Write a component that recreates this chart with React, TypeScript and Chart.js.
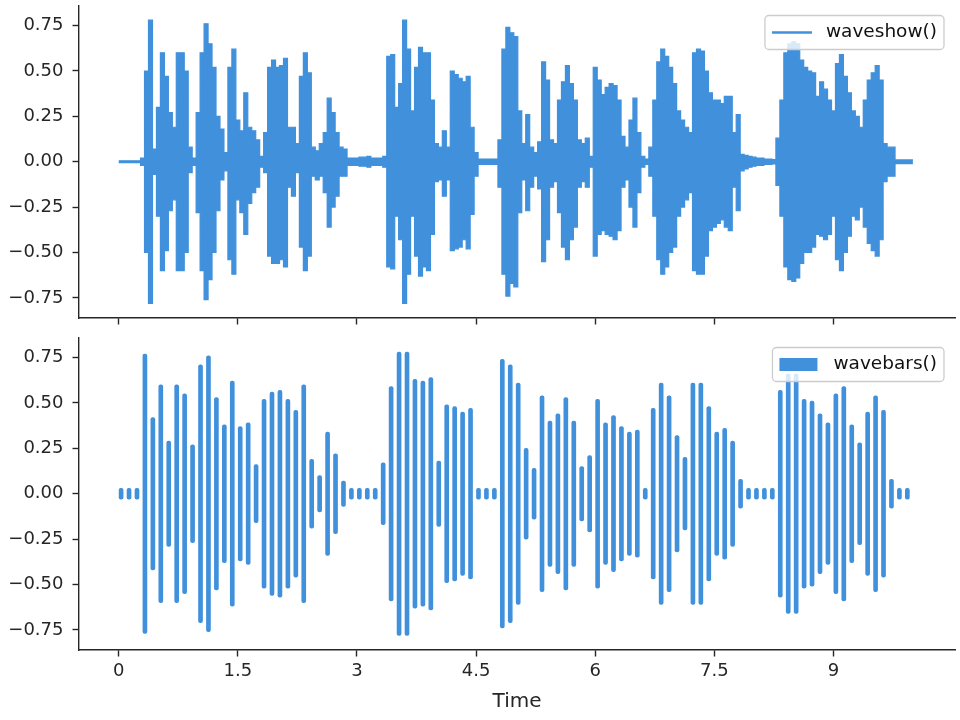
import { useEffect, useRef } from 'react'
import { Chart, registerables } from 'chart.js'

Chart.register(...registerables)

const BLUE = '#4090dc'
const INK = '#262626'
const FONT = "'DejaVu Sans', sans-serif"

// waveform envelope (seconds, peak above zero, peak below zero)
const envTimes = [
  0, 0.05, 0.1, 0.15, 0.2, 0.25, 0.3, 0.35, 0.4, 0.45,
  0.5, 0.55, 0.6, 0.65, 0.7, 0.75, 0.8, 0.85, 0.9, 0.95,
  1, 1.05, 1.1, 1.15, 1.2, 1.25, 1.3, 1.35, 1.4, 1.45,
  1.5, 1.55, 1.6, 1.65, 1.7, 1.75, 1.8, 1.85, 1.9, 1.95,
  2, 2.05, 2.1, 2.15, 2.2, 2.25, 2.3, 2.35, 2.4, 2.45,
  2.5, 2.55, 2.6, 2.65, 2.7, 2.75, 2.8, 2.85, 2.9, 2.95,
  3, 3.05, 3.1, 3.15, 3.2, 3.25, 3.3, 3.35, 3.4, 3.45,
  3.5, 3.55, 3.6, 3.65, 3.7, 3.75, 3.8, 3.85, 3.9, 3.95,
  4, 4.05, 4.1, 4.15, 4.2, 4.25, 4.3, 4.35, 4.4, 4.45,
  4.5, 4.55, 4.6, 4.65, 4.7, 4.75, 4.8, 4.85, 4.9, 4.95,
  5, 5.05, 5.1, 5.15, 5.2, 5.25, 5.3, 5.35, 5.4, 5.45,
  5.5, 5.55, 5.6, 5.65, 5.7, 5.75, 5.8, 5.85, 5.9, 5.95,
  6, 6.05, 6.1, 6.15, 6.2, 6.25, 6.3, 6.35, 6.4, 6.45,
  6.5, 6.55, 6.6, 6.65, 6.7, 6.75, 6.8, 6.85, 6.9, 6.95,
  7, 7.05, 7.1, 7.15, 7.2, 7.25, 7.3, 7.35, 7.4, 7.45,
  7.5, 7.55, 7.6, 7.65, 7.7, 7.75, 7.8, 7.85, 7.9, 7.95,
  8, 8.05, 8.1, 8.15, 8.2, 8.25, 8.3, 8.35, 8.4, 8.45,
  8.5, 8.55, 8.6, 8.65, 8.7, 8.75, 8.8, 8.85, 8.9, 8.95,
  9, 9.05, 9.1, 9.15, 9.2, 9.25, 9.3, 9.35, 9.4, 9.45,
  9.5, 9.55, 9.6, 9.65, 9.7, 9.75, 9.8, 9.85, 9.9, 9.95,
  10,
]
const envUpper = [
  0.005, 0.005, 0.005, 0.005, 0.005, 0.005, 0.02, 0.5, 0.78, 0.07,
  0.3, 0.6, 0.47, 0.27, 0.19, 0.6, 0.6, 0.5, 0.08, 0.02,
  0.27, 0.6, 0.76, 0.65, 0.52, 0.25, 0.18, 0.05, 0.52, 0.62,
  0.23, 0.17, 0.38, 0.19, 0.17, 0.12, 0.03, 0.16, 0.52, 0.56,
  0.52, 0.53, 0.57, 0.19, 0.19, 0.1, 0.47, 0.6, 0.49, 0.08,
  0.06, 0.1, 0.16, 0.35, 0.27, 0.16, 0.08, 0.07, 0.02, 0.02,
  0.02, 0.025, 0.025, 0.03, 0.02, 0.02, 0.02, 0.03, 0.58, 0.59,
  0.3, 0.43, 0.78, 0.62, 0.28, 0.52, 0.63, 0.6, 0.6, 0.34,
  0.1, 0.08, 0.17, 0.08, 0.5, 0.48, 0.46, 0.44, 0.47, 0.19,
  0.05, 0.015, 0.015, 0.015, 0.015, 0.015, 0.12, 0.62, 0.74, 0.71,
  0.69, 0.28, 0.1, 0.26, 0.08, 0.05, 0.11, 0.55, 0.45, 0.12,
  0.1, 0.34, 0.44, 0.53, 0.43, 0.34, 0.12, 0.1, 0.13, 0.03,
  0.52, 0.45, 0.37, 0.41, 0.43, 0.42, 0.34, 0.14, 0.08, 0.23,
  0.35, 0.16, 0.03, 0.015, 0.08, 0.34, 0.55, 0.62, 0.58, 0.52,
  0.43, 0.28, 0.23, 0.19, 0.16, 0.6, 0.62, 0.61, 0.5, 0.38,
  0.34, 0.34, 0.32, 0.36, 0.36, 0.16, 0.26, 0.04, 0.035, 0.03,
  0.025, 0.02, 0.02, 0.015, 0.015, 0.012, 0.13, 0.34, 0.6, 0.65,
  0.66, 0.65, 0.56, 0.52, 0.5, 0.49, 0.36, 0.44, 0.4, 0.34,
  0.28, 0.54, 0.59, 0.47, 0.38, 0.28, 0.25, 0.19, 0.34, 0.45,
  0.49, 0.53, 0.45, 0.1, 0.08, 0.08, 0.01, 0.01, 0.01, 0.01,
  0.01,
]
const envLower = [
  0.005, 0.005, 0.005, 0.005, 0.005, 0.005, 0.02, 0.5, 0.78, 0.07,
  0.3, 0.6, 0.49, 0.27, 0.21, 0.6, 0.6, 0.5, 0.06, 0.02,
  0.28, 0.6, 0.76, 0.65, 0.5, 0.27, 0.1, 0.05, 0.54, 0.62,
  0.21, 0.28, 0.4, 0.23, 0.17, 0.14, 0.03, 0.06, 0.52, 0.56,
  0.56, 0.54, 0.58, 0.14, 0.19, 0.06, 0.47, 0.6, 0.52, 0.08,
  0.1, 0.08, 0.17, 0.36, 0.25, 0.19, 0.08, 0.08, 0.02, 0.02,
  0.02, 0.025, 0.025, 0.03, 0.02, 0.02, 0.02, 0.03, 0.58, 0.59,
  0.3, 0.43, 0.78, 0.62, 0.3, 0.52, 0.63, 0.58, 0.6, 0.4,
  0.11, 0.1, 0.19, 0.1, 0.49, 0.48, 0.47, 0.43, 0.48, 0.29,
  0.08, 0.015, 0.015, 0.015, 0.015, 0.015, 0.14, 0.62, 0.74, 0.67,
  0.69, 0.28, 0.1, 0.27, 0.14, 0.08, 0.15, 0.55, 0.43, 0.14,
  0.11, 0.28, 0.47, 0.54, 0.43, 0.36, 0.14, 0.11, 0.14, 0.03,
  0.52, 0.4, 0.38, 0.4, 0.41, 0.43, 0.38, 0.14, 0.1, 0.25,
  0.36, 0.17, 0.03, 0.015, 0.08, 0.3, 0.54, 0.62, 0.58, 0.5,
  0.47, 0.3, 0.25, 0.21, 0.17, 0.6, 0.62, 0.62, 0.52, 0.38,
  0.36, 0.34, 0.32, 0.36, 0.38, 0.14, 0.27, 0.05, 0.04, 0.03,
  0.025, 0.02, 0.02, 0.015, 0.015, 0.012, 0.13, 0.3, 0.58, 0.65,
  0.66, 0.64, 0.56, 0.5, 0.5, 0.47, 0.4, 0.41, 0.43, 0.4,
  0.3, 0.54, 0.6, 0.5, 0.41, 0.3, 0.32, 0.25, 0.36, 0.45,
  0.49, 0.52, 0.43, 0.11, 0.08, 0.08, 0.01, 0.01, 0.01, 0.01,
  0.01,
]

// wavebars: one bar per frame
const barTimes = [
  0.03, 0.13, 0.23, 0.33, 0.43, 0.53, 0.63, 0.73, 0.83, 0.93,
  1.03, 1.13, 1.23, 1.33, 1.43, 1.53, 1.63, 1.73, 1.83, 1.93,
  2.03, 2.13, 2.23, 2.33, 2.43, 2.53, 2.63, 2.73, 2.83, 2.93,
  3.03, 3.13, 3.23, 3.33, 3.43, 3.53, 3.63, 3.73, 3.83, 3.93,
  4.03, 4.13, 4.23, 4.33, 4.43, 4.53, 4.63, 4.73, 4.83, 4.93,
  5.03, 5.13, 5.23, 5.33, 5.43, 5.53, 5.63, 5.73, 5.83, 5.93,
  6.03, 6.13, 6.23, 6.33, 6.43, 6.53, 6.63, 6.73, 6.83, 6.93,
  7.03, 7.13, 7.23, 7.33, 7.43, 7.53, 7.63, 7.73, 7.83, 7.93,
  8.03, 8.13, 8.23, 8.33, 8.43, 8.53, 8.63, 8.73, 8.83, 8.93,
  9.03, 9.13, 9.23, 9.33, 9.43, 9.53, 9.63, 9.73, 9.83, 9.93,
]
const barAmps = [
  0.03, 0.03, 0.03, 0.77, 0.42, 0.6, 0.29, 0.6, 0.55, 0.27,
  0.71, 0.76, 0.53, 0.38, 0.62, 0.37, 0.39, 0.16, 0.52, 0.56,
  0.57, 0.52, 0.46, 0.6, 0.19, 0.1, 0.34, 0.22, 0.07, 0.03,
  0.03, 0.03, 0.03, 0.17, 0.59, 0.78, 0.78, 0.63, 0.62, 0.64,
  0.18, 0.49, 0.48, 0.45, 0.47, 0.03, 0.03, 0.03, 0.74, 0.71,
  0.61, 0.25, 0.14, 0.54, 0.4, 0.44, 0.53, 0.4, 0.15, 0.21,
  0.52, 0.39, 0.43, 0.37, 0.34, 0.35, 0.03, 0.47, 0.61, 0.54,
  0.32, 0.2, 0.61, 0.61, 0.48, 0.34, 0.36, 0.29, 0.08, 0.03,
  0.03, 0.03, 0.03, 0.57, 0.66, 0.66, 0.52, 0.51, 0.44, 0.39,
  0.55, 0.59, 0.38, 0.28, 0.45, 0.54, 0.46, 0.08, 0.03, 0.03,
]

const yTicks = [-0.75, -0.5, -0.25, 0, 0.25, 0.5, 0.75]
const yTickLabels = ['−0.75', '−0.50', '−0.25', '0.00', '0.25', '0.50', '0.75']
const xTicks = [0, 1.5, 3, 4.5, 6, 7.5, 9]
const xTickLabels = ['0', '1.5', '3', '4.5', '6', '7.5', '9']

// matplotlib-style framed legend in the top right corner of the plot area
function boxLegend(text: string, kind: 'line' | 'patch') {
  return {
    id: 'boxLegend',
    afterDatasetsDraw(chart: any) {
      const { ctx, chartArea } = chart
      ctx.save()
      ctx.font = `18.5px ${FONT}`
      const tw = ctx.measureText(text).width
      const w = 61 + tw + 7
      const h = 34
      const x = chartArea.right - 11 - w
      const y = chartArea.top + 9.5
      ctx.beginPath()
      ctx.roundRect(x, y, w, h, 4)
      ctx.fillStyle = 'rgba(255,255,255,0.8)'
      ctx.fill()
      ctx.strokeStyle = '#cccccc'
      ctx.lineWidth = 1.3
      ctx.stroke()
      const cy = y + h / 2
      ctx.fillStyle = BLUE
      ctx.strokeStyle = BLUE
      if (kind === 'line') {
        ctx.lineWidth = 2.6
        ctx.beginPath()
        ctx.moveTo(x + 7, cy)
        ctx.lineTo(x + 47, cy)
        ctx.stroke()
      } else {
        ctx.fillRect(x + 7, cy - 6.5, 38, 13)
      }
      ctx.fillStyle = '#111'
      ctx.textBaseline = 'middle'
      ctx.fillText(text, x + 61, cy)
      ctx.restore()
    },
  }
}

// pin the axis boxes so both plot areas land where the matplotlib axes are
const noPad = (axis: any) => {
  axis.paddingTop = 0
  axis.paddingBottom = 0
  axis.paddingLeft = 0
  axis.paddingRight = 0
}

const yScale = (): any => ({
  min: -0.861,
  max: 0.858,
  afterBuildTicks: (axis: any) => { axis.ticks = yTicks.map((v) => ({ value: v })) },
  afterFit: (axis: any) => { axis.width = 79; noPad(axis) },
  ticks: { callback: (_v: any, i: number) => yTickLabels[i], color: INK, font: { size: 18 }, padding: 9 },
  grid: { drawOnChartArea: false, tickLength: 6.5, tickWidth: 1.4, tickColor: INK },
  border: { color: INK, width: 1.4 },
})

const xScale = (labels: boolean, height: number): any => ({
  type: 'linear',
  min: -0.5,
  max: 10.53,
  offset: false,
  afterBuildTicks: (axis: any) => { axis.ticks = xTicks.map((v) => ({ value: v })) },
  afterFit: (axis: any) => { axis.height = height; noPad(axis) },
  ticks: {
    display: labels,
    autoSkip: false,
    maxRotation: 0,
    callback: (_v: any, i: number) => xTickLabels[i],
    color: INK,
    font: { size: 18 },
    padding: 4,
  },
  grid: { offset: false, drawOnChartArea: false, tickLength: 6.5, tickWidth: 1.4, tickColor: INK },
  border: { color: INK, width: 1.4 },
  title: labels
    ? { display: true, text: 'Time', color: INK, font: { size: 20 }, padding: { top: 0, bottom: 6 } }
    : { display: false },
})

export default function App() {
  const topRef = useRef<HTMLCanvasElement>(null)
  const botRef = useRef<HTMLCanvasElement>(null)

  useEffect(() => {
    Chart.defaults.font.family = FONT
    Chart.defaults.color = INK

    const top = new Chart(topRef.current!, {
      type: 'line',
      data: {
        datasets: [
          {
            label: 'waveshow()',
            data: envTimes.map((t, i) => ({ x: t, y: envUpper[i] })),
            borderColor: BLUE,
            backgroundColor: BLUE,
            borderWidth: 1.2,
            pointRadius: 0,
            stepped: 'middle',
            fill: '+1',
          },
          {
            label: 'lower',
            data: envTimes.map((t, i) => ({ x: t, y: -envLower[i] })),
            borderColor: BLUE,
            backgroundColor: BLUE,
            borderWidth: 1.2,
            pointRadius: 0,
            stepped: 'middle',
            fill: false,
          },
        ],
      },
      options: {
        animation: false,
        responsive: false,
        events: [],
        layout: { padding: { top: 6, right: 5, left: 0, bottom: 0 }, autoPadding: false },
        plugins: { legend: { display: false }, tooltip: { enabled: false } },
        scales: { x: xScale(false, 12), y: yScale() },
      } as any,
      plugins: [boxLegend('waveshow()', 'line')],
    })

    const bot = new Chart(botRef.current!, {
      type: 'bar',
      data: {
        datasets: [
          {
            label: 'wavebars()',
            data: barTimes.map((t, i) => ({ x: t, y: [-barAmps[i], barAmps[i]] })) as any,
            backgroundColor: BLUE,
            barThickness: 4,
            borderRadius: 2,
            borderSkipped: false,
          },
        ],
      },
      options: {
        animation: false,
        responsive: false,
        events: [],
        layout: { padding: { top: 8, right: 5, left: 0, bottom: 0 }, autoPadding: false },
        plugins: { legend: { display: false }, tooltip: { enabled: false } },
        scales: { x: xScale(true, 70), y: yScale() },
      } as any,
      plugins: [boxLegend('wavebars()', 'patch')],
    })

    return () => {
      top.destroy()
      bot.destroy()
    }
  }, [])

  return (
    <div style={{ position: 'absolute', left: 0, top: 0, width: 960, height: 720, background: '#fff' }}>
      <canvas ref={topRef} width={960} height={330} style={{ position: 'absolute', left: 0, top: 0 }} />
      <canvas ref={botRef} width={960} height={390} style={{ position: 'absolute', left: 0, top: 330 }} />
    </div>
  )
}
